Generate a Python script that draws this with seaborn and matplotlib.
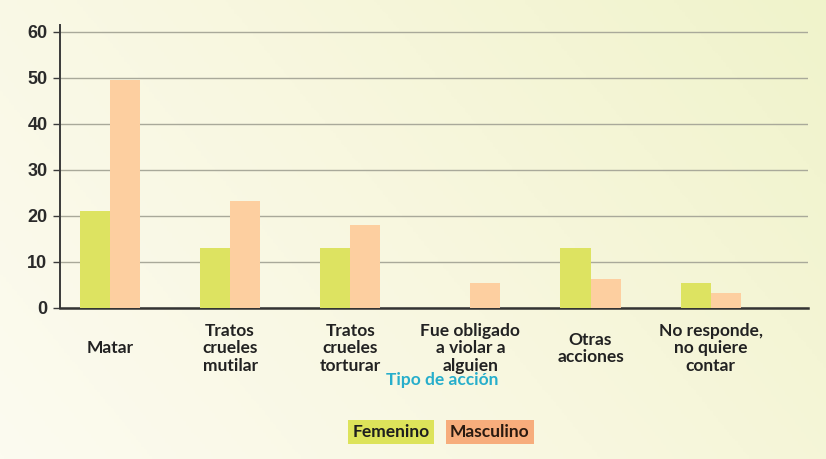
import numpy as np
import pandas as pd
import seaborn as sns
import matplotlib.pyplot as plt
from matplotlib.colors import LinearSegmentedColormap

# data
categorias = ["Matar", "Tratos\ncrueles\nmutilar", "Tratos\ncrueles\ntorturar",
              "Fue obligado\na violar a\nalguien", "Otras\nacciones",
              "No responde,\nno quiere\ncontar"]
femenino = [21, 13, 13, 0, 13, 5.4]
masculino = [49.5, 23.3, 18, 5.4, 6.3, 3.3]
y_ticks = [0, 10, 20, 30, 40, 50, 60]

df = pd.DataFrame({
    "categoria": categorias * 2,
    "valor": femenino + masculino,
    "sexo": ["Femenino"] * len(categorias) + ["Masculino"] * len(categorias),
})

sns.set_theme(style="white")
plt.rcParams["font.family"] = ["Lato", "DejaVu Sans"]

fig = plt.figure(figsize=(8.26, 4.59), dpi=100)
fig.patch.set_facecolor("#fbfae6")

# soft background gradient
bg = fig.add_axes([0, 0, 1, 1], zorder=-10)
X, Y = np.meshgrid(np.linspace(0, 1, 300), np.linspace(0, 1, 200))
Z = 0.55 * X + 0.25 * Y
cmap = LinearSegmentedColormap.from_list("bg", ["#fcfbf0", "#f8f7df", "#f0f3cb"])
bg.imshow(Z, cmap=cmap, aspect="auto", extent=[0, 1, 0, 1], origin="lower")
bg.axis("off")

ax = fig.add_axes([0.0726, 0.329, 0.9056, 0.6165])
ax.patch.set_alpha(0)

sns.barplot(data=df, x="categoria", y="valor", hue="sexo",
            palette={"Femenino": "#dde361", "Masculino": "#fdcfa0"},
            width=0.5, saturation=1, ax=ax, legend=False, zorder=3)
for p in ax.patches:
    p.set_edgecolor("none")

ax.set_ylim(0, 61.5)
ax.set_xlim(-0.416, 5.81)
ax.set_yticks(y_ticks)
ax.yaxis.grid(True, color="#a9a99a", linewidth=1.0, zorder=0)
ax.set_axisbelow(True)
for s in ["top", "right"]:
    ax.spines[s].set_visible(False)
ax.spines["left"].set_color("#3a3a3a")
ax.spines["left"].set_linewidth(1.4)
ax.spines["bottom"].set_color("#333333")
ax.spines["bottom"].set_linewidth(1.8)

ax.tick_params(axis="y", left=True, length=5, width=1, color="#3a3a3a",
               labelsize=13, labelcolor="#2a2a2a", pad=4)
ax.tick_params(axis="x", bottom=False, labelsize=12.5, labelcolor="#222222", pad=21.5)
for lbl in ax.get_yticklabels():
    lbl.set_fontweight("bold")
    lbl.set_family(["Liberation Sans", "DejaVu Sans"])
for lbl in ax.get_xticklabels():
    lbl.set_fontweight("bold")
    lbl.set_verticalalignment("center_baseline")
    lbl.set_linespacing(1.1)
ax.set_xlabel("")
ax.set_ylabel("")

fig.text(0.535, 1 - 380 / 459, "Tipo de acción", ha="center", va="center",
         fontsize=12.5, fontweight="bold", color="#27aecb")

fig.text(0.473, 1 - 432 / 459, "Femenino", ha="center", va="center",
         fontsize=12.5, fontweight="bold", color="#1e1e1e",
         bbox=dict(boxstyle="square,pad=0.25", facecolor="#dde35a", edgecolor="none"))
fig.text(0.593, 1 - 432 / 459, "Masculino", ha="center", va="center",
         fontsize=12.5, fontweight="bold", color="#2a1a10",
         bbox=dict(boxstyle="square,pad=0.25", facecolor="#f7ad7c", edgecolor="none"))

fig.savefig("out.png", dpi=100, facecolor=fig.get_facecolor())
